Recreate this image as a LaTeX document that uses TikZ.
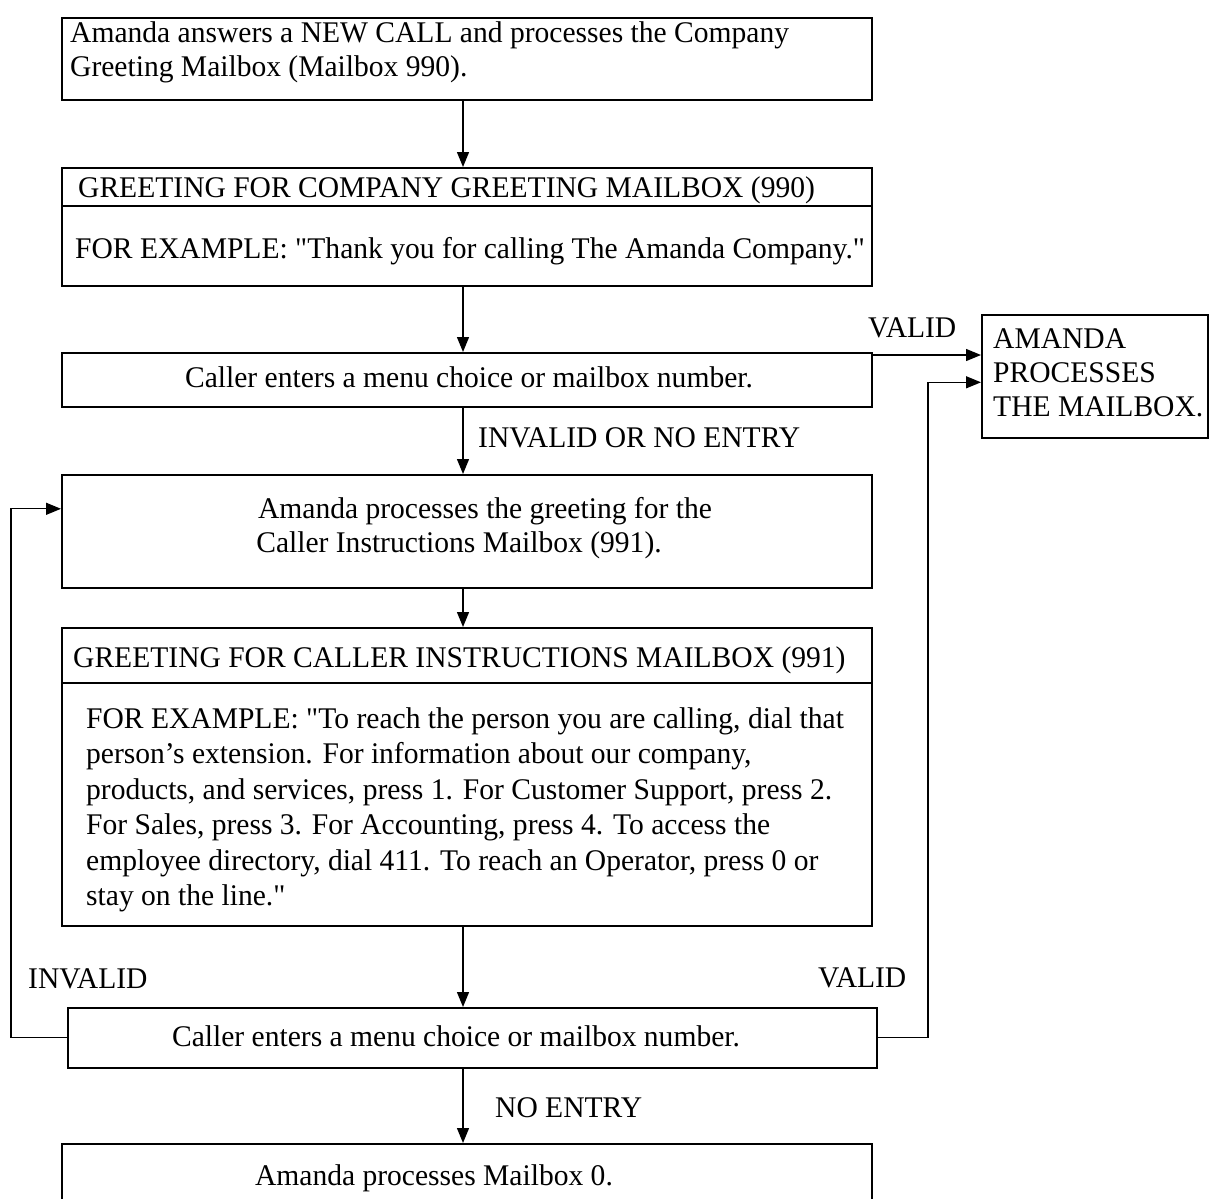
\documentclass[tikz,border=0pt]{standalone}
\usepackage{fontspec}
\setmainfont[FakeStretch=0.985]{Liberation Serif}
\usetikzlibrary{arrows.meta}
\newcommand\dq{\XeTeXglyph\XeTeXcharglyph"22\relax}
\begin{document}
\begin{tikzpicture}[x=1pt,y=-1pt,
  box/.style={draw, line width=1.6pt, inner sep=0pt, anchor=north west},
  txt/.style={inner sep=0pt, font=\fontsize{30}{34}\selectfont},
  arr/.style={line width=1.3pt, -{Triangle[length=15pt,width=12pt]}},
  ln/.style={line width=1.3pt}]
\clip (0,0) rectangle (1210,1199);
\fill[white] (0,0) rectangle (1210,1199);
% boxes
\node[box, minimum width=810, minimum height=82] (b1) at (61,17) {};
\node[box, minimum width=810, minimum height=38] (b2h) at (61,167) {};
\node[box, minimum width=810, minimum height=80] (b2b) at (61,205) {};
\node[box, minimum width=810, minimum height=54] (b3) at (61,352) {};
\node[box, minimum width=226, minimum height=123] (am) at (981,314) {};
\node[box, minimum width=810, minimum height=113] (b4) at (61,474) {};
\node[box, minimum width=810, minimum height=55] (b5h) at (61,627) {};
\node[box, minimum width=810, minimum height=243] (b5b) at (61,682) {};
\node[box, minimum width=809, minimum height=60] (b6) at (67,1007) {};
\node[box, minimum width=810, minimum height=90] (b7) at (61,1143) {};
% texts
\node[txt, anchor=base west] (t1a) at (70,43) {Amanda answers a NEW CALL and processes the Company};
\node[txt, anchor=base west] (t1b) at (70,77) {Greeting Mailbox (Mailbox 990).};
\node[txt, anchor=base west] (t2h) at (78,197) {GREETING FOR COMPANY GREETING MAILBOX (990)};
\node[txt, anchor=base west] (t2b) at (75,258) {FOR EXAMPLE: \dq Thank you for calling The Amanda Company.\dq};
\node[txt, anchor=base] (t3) at (469,387) {Caller enters a menu choice or mailbox number.};
\node[txt, anchor=base west] (tam1) at (993,348) {AMANDA};
\node[txt, anchor=base west] (tam2) at (993,382) {PROCESSES};
\node[txt, anchor=base west] (tam3) at (993,416) {THE MAILBOX.};
\node[txt, anchor=base] (t4a) at (485,518) {Amanda processes the greeting for the};
\node[txt, anchor=base] (t4b) at (459,552) {Caller Instructions Mailbox (991).};
\node[txt, anchor=base west] (t5h) at (73,667) {GREETING FOR CALLER INSTRUCTIONS MAILBOX (991)};
\node[txt, anchor=base west] (t5a) at (86,728) {FOR EXAMPLE: \dq To reach the person you are calling, dial that};
\node[txt, anchor=base west] (t5b) at (86,763.5) {person’s extension. For information about our company,};
\node[txt, anchor=base west] (t5c) at (86,799) {products, and services, press 1. For Customer Support, press 2.};
\node[txt, anchor=base west] (t5d) at (86,834.5) {For Sales, press 3. For Accounting, press 4. To access the};
\node[txt, anchor=base west] (t5e) at (86,870) {employee directory, dial 411. To reach an Operator, press 0 or};
\node[txt, anchor=base west] (t5f) at (86,905) {stay on the line.\dq};
\node[txt, anchor=base] (t6) at (456,1046) {Caller enters a menu choice or mailbox number.};
\node[txt, anchor=base] (t7) at (434,1185) {Amanda processes Mailbox 0.};
% labels
\node[txt, anchor=base west] (lv1) at (868,337) {VALID};
\node[txt, anchor=base west] (lin1) at (478,447) {INVALID OR NO ENTRY};
\node[txt, anchor=base west] (lin2) at (28,988) {INVALID};
\node[txt, anchor=base west] (lv2) at (818,987) {VALID};
\node[txt, anchor=base west] (lne) at (495,1117) {NO ENTRY};
% connectors
\coordinate (cx) at (463,0);
\coordinate (rx) at (928,0);
\coordinate (lx) at (11,0);
\draw[arr] (b1.south -| cx) -- (b2h.north -| cx);
\draw[arr] (b2b.south -| cx) -- (b3.north -| cx);
\draw[arr] (b3.south -| cx) -- (b4.north -| cx);
\draw[arr] (b4.south -| cx) -- (b5h.north -| cx);
\draw[arr] (b5b.south -| cx) -- (b6.north -| cx);
\draw[arr] (b6.south -| cx) -- (b7.north -| cx);
\coordinate (v1) at ([yshift=-3pt]b3.north east);
\draw[arr] (v1) -- (v1 -| am.west);
\coordinate (v2) at ([yshift=-6pt]am.west);
\draw[arr] (b6.east) -- (b6.east -| rx) -- (rx |- v2) -- (v2);
\coordinate (i2) at ([yshift=22.5pt]b4.west);
\draw[arr] (b6.west) -- (b6.west -| lx) -- (lx |- i2) -- (i2);
\end{tikzpicture}
\end{document}
